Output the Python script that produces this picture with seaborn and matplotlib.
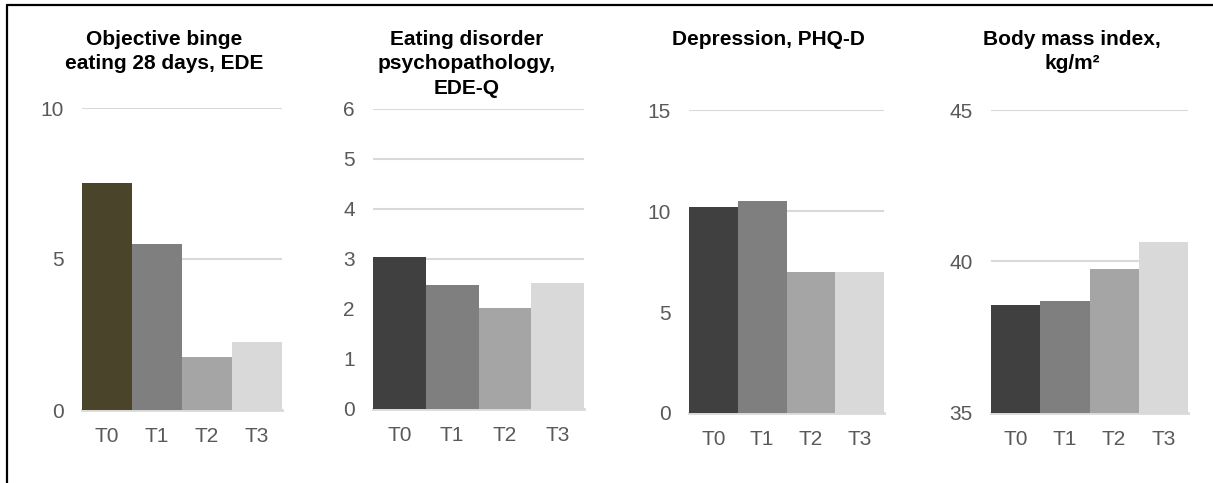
import matplotlib
matplotlib.use("Agg")
import matplotlib.pyplot as plt
from matplotlib.lines import Line2D
import seaborn as sns

# Measurement time points
times = ["T0", "T1", "T2", "T3"]

# Mean values per outcome
binge_episodes = [7.52, 5.50, 1.75, 2.25]
ede_q = [3.04, 2.48, 2.02, 2.52]
phq_d = [10.2, 10.5, 7.0, 7.0]
bmi = [38.55, 38.70, 39.75, 40.65]

titles = [
    "Objective binge\neating 28 days, EDE",
    "Eating disorder\npsychopathology,\nEDE-Q",
    "Depression, PHQ-D",
    "Body mass index,\nkg/m²",
]
y_ticks = [
    [0, 5, 10],
    [0, 1, 2, 3, 4, 5, 6],
    [0, 5, 10, 15],
    [35, 40, 45],
]

grey_palette = ["#404040", "#7f7f7f", "#a5a5a5", "#d9d9d9"]
first_palette = ["#4a442a", "#7f7f7f", "#a5a5a5", "#d9d9d9"]

sns.set_theme(style="white")
plt.rcParams["font.family"] = ["Liberation Sans", "DejaVu Sans"]

W, H = 1213, 483
fig = plt.figure(figsize=(W / 100, H / 100), dpi=100)

# axes boxes in pixels: left, right, top, bottom
boxes = [
    (82, 282, 108, 410),
    (373, 584, 108.5, 409),
    (689, 884, 110, 413),
    (991, 1188, 110, 413),
]
title_x = [164, 467, 768, 1072]

series = [binge_episodes, ede_q, phq_d, bmi]
palettes = [first_palette, grey_palette, grey_palette, grey_palette]

for vals, pal, ticks, (l, r, t, b), title, tx in zip(series, palettes, y_ticks, boxes, titles, title_x):
    ax = fig.add_axes([l / W, 1 - b / H, (r - l) / W, (b - t) / H])
    sns.barplot(x=times, y=vals, hue=times, palette=pal, width=1.0,
                saturation=1, legend=False, ax=ax, zorder=3, linewidth=0)
    ax.set_ylim(ticks[0], ticks[-1])
    ax.set_xlim(-0.5, 3.5)
    ax.set_yticks(ticks)
    ax.set_yticklabels([str(v) for v in ticks])
    ax.yaxis.grid(True, color="#d9d9d9", linewidth=1.5, zorder=0)
    ax.set_axisbelow(True)
    for side in ["top", "right", "left"]:
        ax.spines[side].set_visible(False)
    ax.spines["bottom"].set_color("#d9d9d9")
    ax.spines["bottom"].set_linewidth(2.0)
    ax.spines["bottom"].set_zorder(2)
    ax.tick_params(axis="both", length=0, labelsize=15, labelcolor="#595959")
    ax.tick_params(axis="y", pad=13)
    ax.tick_params(axis="x", pad=12)
    ax.set_xlabel("")
    ax.set_ylabel("")
    fig.text(tx / W, 1 - 30 / H, title, ha="center", va="top",
             fontsize=15, fontweight="bold", color="black", linespacing=1.35)

# frame lines along the top and left edges
fig.add_artist(Line2D([7 / W, 1], [1 - 5 / H, 1 - 5 / H], color="black",
                      linewidth=1.6, transform=fig.transFigure))
fig.add_artist(Line2D([7 / W, 7 / W], [0, 1 - 5 / H], color="black",
                      linewidth=1.6, transform=fig.transFigure))

fig.savefig("out.png", dpi=100, facecolor="white")
